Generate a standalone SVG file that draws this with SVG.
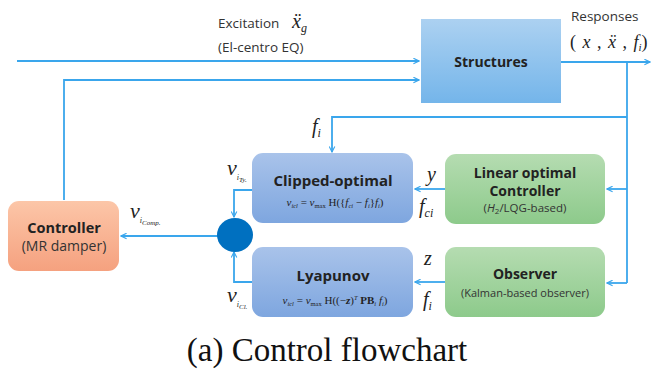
<svg xmlns="http://www.w3.org/2000/svg" width="654" height="376" viewBox="0 0 654 376">
<defs>
<linearGradient id="gS" x1="0" y1="0" x2="0" y2="1"><stop offset="0" stop-color="#acd1f1"/><stop offset="1" stop-color="#74b5ea"/></linearGradient>
<linearGradient id="gB" x1="0" y1="0" x2="0" y2="1"><stop offset="0" stop-color="#a9c3ea"/><stop offset="1" stop-color="#7ea6df"/></linearGradient>
<linearGradient id="gG" x1="0" y1="0" x2="0" y2="1"><stop offset="0" stop-color="#b5dcb1"/><stop offset="1" stop-color="#8dca8b"/></linearGradient>
<linearGradient id="gO" x1="0" y1="0" x2="0" y2="1"><stop offset="0" stop-color="#fcc6a8"/><stop offset="1" stop-color="#f5a17f"/></linearGradient>
<marker id="ar" viewBox="0 0 10 10" refX="9" refY="5" markerWidth="7" markerHeight="7" markerUnits="userSpaceOnUse" orient="auto">
<path d="M1,1 L9,5 L1,9" fill="none" stroke="#3aa6ec" stroke-width="1.6"/>
</marker>
</defs>
<style>
.ln{fill:none;stroke:#3aa6ec;stroke-width:1.8}
.bt{font-family:"Open Sans","Noto Sans",sans-serif;font-weight:bold;fill:#222;text-anchor:middle}
.nt{font-family:"Open Sans","Noto Sans",sans-serif;fill:#333;text-anchor:middle}
.lt{font-family:"Open Sans","Noto Sans",sans-serif;fill:#333}
.m{font-family:"Liberation Serif","Times New Roman",serif;font-style:italic;fill:#222}
.mr{font-family:"Liberation Serif","Times New Roman",serif;fill:#222}
</style>

<g id="connectors">
<path class="ln" d="M17,61 H419" marker-end="url(#ar)"/>
<path class="ln" d="M64,200 V80 H419" marker-end="url(#ar)"/>
<path class="ln" d="M561,62 H650" marker-end="url(#ar)"/>
<path class="ln" d="M627,62 V283"/>
<path class="ln" d="M627,117 H332 V152" marker-end="url(#ar)"/>
<path class="ln" d="M627,189 H607" marker-end="url(#ar)"/>
<path class="ln" d="M627,283 H607" marker-end="url(#ar)"/>
<path class="ln" d="M445,189 H415" marker-end="url(#ar)"/>
<path class="ln" d="M445,282 H415" marker-end="url(#ar)"/>
<path class="ln" d="M252,190 H234 V217" marker-end="url(#ar)"/>
<path class="ln" d="M252,282 H234 V252" marker-end="url(#ar)"/>
<path class="ln" d="M218,236 H121" marker-end="url(#ar)"/>
</g>

<g id="labels">
<text class="lt" x="218" y="28" font-size="13.5">Excitation</text>
<text class="m" x="292" y="28" font-size="20">x&#776;<tspan font-size="12" dy="4">g</tspan></text>
<text class="lt" x="218" y="52" font-size="13.5">(El-centro EQ)</text>
<text class="lt" x="571" y="21" font-size="13.5">Responses</text>
<text class="mr" x="570" y="48" font-size="18" word-spacing="2">( <tspan font-style="italic">x</tspan> , <tspan font-style="italic">x&#776;</tspan> , <tspan font-style="italic">f</tspan><tspan font-style="italic" font-size="11" dy="3">i</tspan><tspan dy="-3">)</tspan></text>
<text class="m" x="312" y="133" font-size="20">f<tspan font-size="12" dy="4">i</tspan></text>
<text class="m" x="227" y="175" font-size="22">v<tspan font-size="8" dy="5">i</tspan><tspan font-size="7" dy="2">Ty.</tspan></text>
<text class="m" x="130" y="218" font-size="22">v<tspan font-size="8" dy="5">i</tspan><tspan font-size="7" dy="2">Comp.</tspan></text>
<text class="m" x="227" y="302" font-size="22">v<tspan font-size="8" dy="5">i</tspan><tspan font-size="7" dy="2">Cl.</tspan></text>
<text class="m" x="427" y="181" font-size="20">y</text>
<text class="m" x="419" y="213" font-size="20">f<tspan font-size="12" dy="4">ci</tspan></text>
<text class="m" x="424" y="265" font-size="20">z</text>
<text class="m" x="423" y="306" font-size="20">f<tspan font-size="12" dy="4">i</tspan></text>
</g>

<g id="structures">
<rect x="421" y="19" width="140" height="84" fill="url(#gS)"/>
<text class="bt" x="491" y="67" font-size="14">Structures</text>
</g>

<g id="clipped">
<rect x="252" y="153" width="161" height="70" rx="11" fill="url(#gB)"/>
<text class="bt" x="333" y="186" font-size="15">Clipped-optimal</text>
<text class="mr" x="335" y="206" font-size="11" text-anchor="middle"><tspan font-style="italic">v</tspan><tspan font-size="6.5" dy="2" font-style="italic">icl</tspan><tspan dy="-2"> = </tspan><tspan font-style="italic">v</tspan><tspan font-size="6.5" dy="2">max</tspan><tspan dy="-2"> H({</tspan><tspan font-style="italic">f</tspan><tspan font-size="6.5" dy="2" font-style="italic">ci</tspan><tspan dy="-2"> − </tspan><tspan font-style="italic">f</tspan><tspan font-size="6.5" dy="2" font-style="italic">i</tspan><tspan dy="-2">}</tspan><tspan font-style="italic">f</tspan><tspan font-size="6.5" dy="2" font-style="italic">i</tspan><tspan dy="-2">)</tspan></text>
</g>

<g id="lyapunov">
<rect x="252" y="247" width="161" height="70" rx="11" fill="url(#gB)"/>
<text class="bt" x="333" y="281" font-size="15">Lyapunov</text>
<text class="mr" x="335" y="304" font-size="11" text-anchor="middle"><tspan font-style="italic">v</tspan><tspan font-size="6.5" dy="2" font-style="italic">icl</tspan><tspan dy="-2"> = </tspan><tspan font-style="italic">v</tspan><tspan font-size="6.5" dy="2">max</tspan><tspan dy="-2"> H((−</tspan><tspan font-weight="bold" font-style="italic">z</tspan><tspan>)</tspan><tspan font-size="6.5" dy="-4" font-style="italic">T</tspan><tspan dy="4" font-weight="bold"> PB</tspan><tspan font-size="6.5" dy="2" font-style="italic">i</tspan><tspan dy="-2"> </tspan><tspan font-style="italic">f</tspan><tspan font-size="6.5" dy="2" font-style="italic">i</tspan><tspan dy="-2">)</tspan></text>
</g>

<g id="linear">
<rect x="445" y="154" width="160" height="70" rx="11" fill="url(#gG)"/>
<text class="bt" x="525" y="178" font-size="14">Linear optimal</text>
<text class="bt" x="525" y="196" font-size="14">Controller</text>
<text class="nt" x="525" y="212" font-size="11.5">(<tspan font-style="italic">H</tspan><tspan font-size="8" dy="2">2</tspan><tspan dy="-2">/LQG-based)</tspan></text>
</g>

<g id="observer">
<rect x="445" y="247" width="160" height="70" rx="11" fill="url(#gG)"/>
<text class="bt" x="525" y="279" font-size="14">Observer</text>
<text class="nt" x="525" y="297" font-size="11">(Kalman-based observer)</text>
</g>

<g id="sum">
<ellipse cx="235" cy="235" rx="18" ry="17" fill="#0070c0"/>
</g>

<g id="controller">
<rect x="8" y="201" width="111" height="70" rx="11" fill="url(#gO)"/>
<text class="bt" x="64" y="233" font-size="14.5">Controller</text>
<text class="nt" x="64" y="251" font-size="14">(MR damper)</text>
</g>

<text x="327" y="361" font-family="Liberation Serif,'Times New Roman',serif" font-size="33" fill="#111" text-anchor="middle">(a) Control flowchart</text>
</svg>
